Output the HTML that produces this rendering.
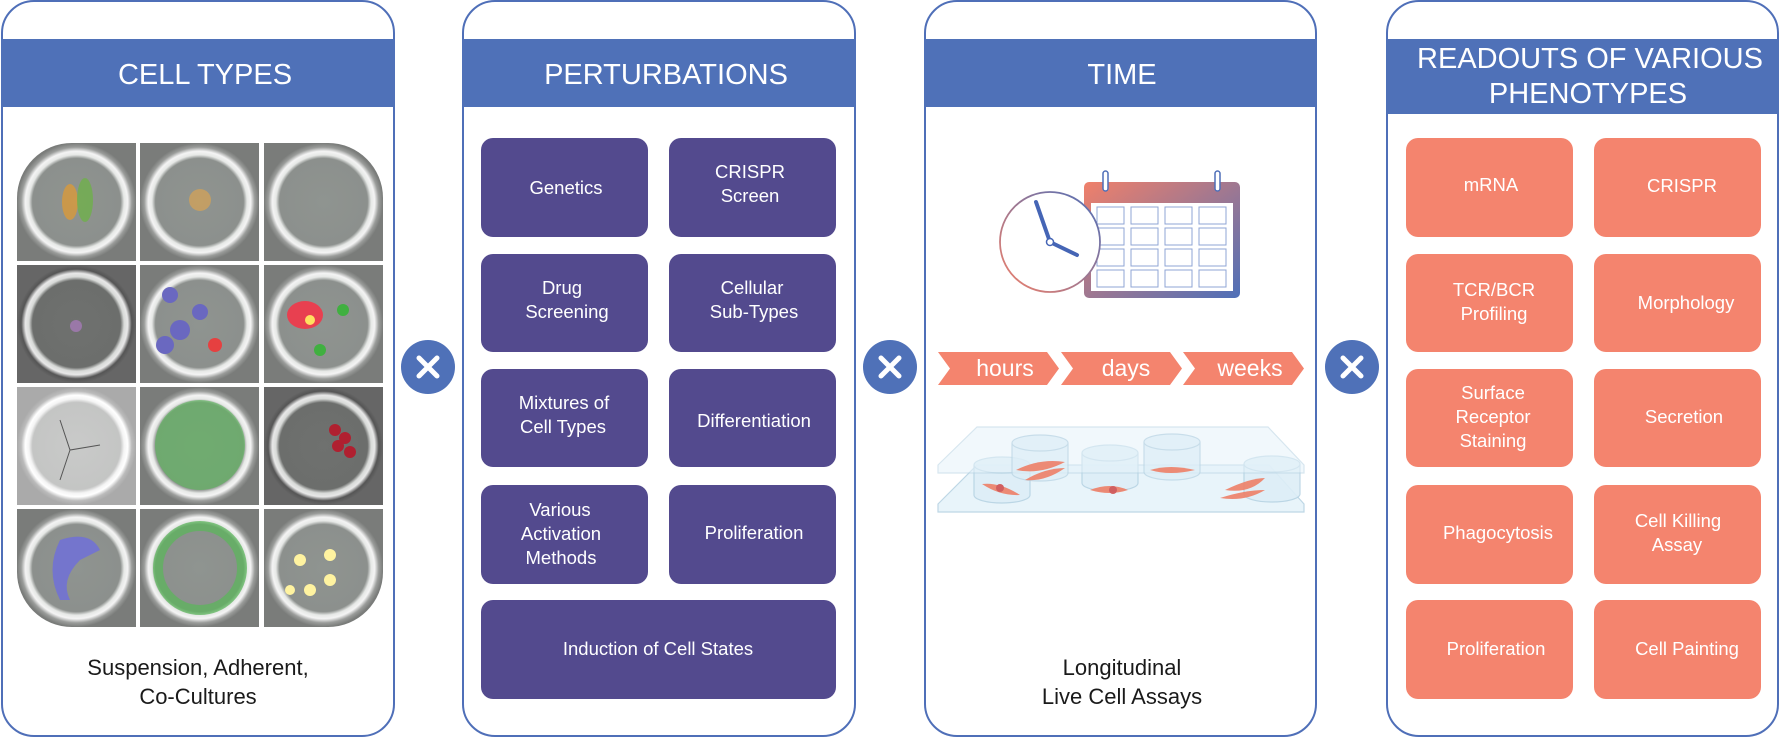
<!DOCTYPE html>
<html><head><meta charset="utf-8"><style>
html,body{margin:0;padding:0;background:#fff;}
body{width:1780px;height:738px;overflow:hidden;font-family:"Liberation Sans",sans-serif;}
</style></head><body>
<svg width="1780" height="738" viewBox="0 0 1780 738" xmlns="http://www.w3.org/2000/svg" font-family="Liberation Sans, sans-serif">
<defs>
<linearGradient id="cal" x1="0" y1="0" x2="1" y2="1"><stop offset="0" stop-color="#f0806a"/><stop offset="1" stop-color="#4e6fb8"/></linearGradient>
<linearGradient id="clk" x1="0" y1="1" x2="1" y2="0"><stop offset="0" stop-color="#f0806a"/><stop offset="1" stop-color="#4e6fb8"/></linearGradient>
<radialGradient id="ring" cx="0.5" cy="0.5" r="0.5">
<stop offset="0" stop-color="#8f9490"/><stop offset="0.74" stop-color="#8c908d"/><stop offset="0.8" stop-color="#e6e8e6"/><stop offset="0.86" stop-color="#f4f4f4"/><stop offset="0.93" stop-color="#9a9c9a"/><stop offset="1" stop-color="#7a7c7a"/></radialGradient>
<radialGradient id="ringd" cx="0.5" cy="0.5" r="0.5">
<stop offset="0" stop-color="#6f716f"/><stop offset="0.74" stop-color="#6c6e6c"/><stop offset="0.8" stop-color="#d8dad8"/><stop offset="0.86" stop-color="#e8e8e8"/><stop offset="0.93" stop-color="#555"/><stop offset="1" stop-color="#666"/></radialGradient>
<radialGradient id="ringl" cx="0.5" cy="0.5" r="0.5">
<stop offset="0" stop-color="#c9cac9"/><stop offset="0.74" stop-color="#c4c5c4"/><stop offset="0.8" stop-color="#f4f4f4"/><stop offset="0.86" stop-color="#fff"/><stop offset="0.93" stop-color="#bbb"/><stop offset="1" stop-color="#aaa"/></radialGradient>
<clipPath id="gridclip"><rect x="17" y="143" width="366" height="484" rx="55"/></clipPath>
</defs>

<!-- panels -->
<g fill="#fff" stroke="#4f6fb8" stroke-width="2">
<rect x="2" y="1" width="392" height="735" rx="32"/>
<rect x="463" y="1" width="392" height="735" rx="32"/>
<rect x="925" y="1" width="391" height="735" rx="32"/>
<rect x="1387" y="1" width="391" height="735" rx="32"/>
</g>
<g fill="#4f71b8">
<rect x="1" y="39" width="394" height="68"/>
<rect x="462" y="39" width="394" height="68"/>
<rect x="924" y="39" width="393" height="68"/>
<rect x="1386" y="39" width="393" height="75"/>
</g>
<g fill="#fff" font-size="29" text-anchor="middle">
<text x="205" y="84">CELL TYPES</text>
<text x="666" y="84">PERTURBATIONS</text>
<text x="1122" y="84">TIME</text>
<text x="1590" y="68">READOUTS OF VARIOUS</text>
<text x="1588" y="103">PHENOTYPES</text>
</g>

<!-- cell grid -->
<g clip-path="url(#gridclip)">
<rect x="17" y="143" width="366" height="484" fill="#fff"/>
<g>
<rect x="17" y="143" width="119" height="118" fill="url(#ring)"/>
<rect x="140" y="143" width="119" height="118" fill="url(#ring)"/>
<rect x="264" y="143" width="119" height="118" fill="url(#ring)"/>
<rect x="17" y="265" width="119" height="118" fill="url(#ringd)"/>
<rect x="140" y="265" width="119" height="118" fill="url(#ring)"/>
<rect x="264" y="265" width="119" height="118" fill="url(#ring)"/>
<rect x="17" y="387" width="119" height="118" fill="url(#ringl)"/>
<rect x="140" y="387" width="119" height="118" fill="url(#ring)"/>
<rect x="264" y="387" width="119" height="118" fill="url(#ringd)"/>
<rect x="17" y="509" width="119" height="118" fill="url(#ring)"/>
<rect x="140" y="509" width="119" height="118" fill="url(#ring)"/>
<rect x="264" y="509" width="119" height="118" fill="url(#ring)"/>
</g>
<!-- blobs -->
<ellipse cx="70" cy="202" rx="8" ry="18" fill="#d99a3a" opacity="0.8"/>
<ellipse cx="85" cy="200" rx="8" ry="22" fill="#6fb04a" opacity="0.8"/>
<circle cx="200" cy="200" r="11" fill="#c8a060" opacity="0.9"/>
<circle cx="76" cy="326" r="6" fill="#9a78a8"/>
<circle cx="170" cy="295" r="8" fill="#6a68c0"/><circle cx="180" cy="330" r="10" fill="#6a68c0"/><circle cx="200" cy="312" r="8" fill="#6a68c0"/><circle cx="215" cy="345" r="7" fill="#e64040"/><circle cx="165" cy="345" r="9" fill="#6a68c0"/>
<ellipse cx="305" cy="315" rx="18" ry="14" fill="#e84050"/><circle cx="310" cy="320" r="5" fill="#ffe060"/><circle cx="343" cy="310" r="6" fill="#40b040"/><circle cx="320" cy="350" r="6" fill="#40b040"/>
<path d="M60 420 L70 450 L100 445 M70 450 L60 480" stroke="#555" fill="none"/>
<ellipse cx="200" cy="445" rx="45" ry="45" fill="#5cba5c" opacity="0.6"/>
<g fill="#b02030"><circle cx="335" cy="430" r="6"/><circle cx="345" cy="438" r="6"/><circle cx="338" cy="446" r="6"/><circle cx="350" cy="452" r="6"/></g>
<path d="M60 540 Q90 530 100 550 L80 560 Q60 580 70 600 L60 600 Q45 570 60 540Z" fill="#7070d8" opacity="0.85"/>
<ellipse cx="200" cy="568" rx="42" ry="42" fill="none" stroke="#58b858" stroke-width="10" opacity="0.7"/>
<g fill="#fff3a0"><circle cx="300" cy="560" r="6"/><circle cx="330" cy="555" r="6"/><circle cx="310" cy="590" r="6"/><circle cx="330" cy="580" r="6"/><circle cx="290" cy="590" r="5"/></g>
<g fill="#fff">
<rect x="136" y="143" width="4" height="484"/><rect x="259" y="143" width="5" height="484"/>
<rect x="17" y="261" width="366" height="4"/><rect x="17" y="383" width="366" height="4"/><rect x="17" y="505" width="366" height="4"/>
</g>
</g>
<g fill="#1a1a1a" font-size="22" text-anchor="middle">
<text x="198" y="675">Suspension, Adherent,</text>
<text x="198" y="704">Co-Cultures</text>
<text x="1122" y="675">Longitudinal</text>
<text x="1122" y="704">Live Cell Assays</text>
</g>

<!-- perturbation boxes -->
<g fill="#534a8e">
<rect x="481" y="138" width="167" height="99" rx="12"/><rect x="669" y="138" width="167" height="99" rx="12"/>
<rect x="481" y="254" width="167" height="98" rx="12"/><rect x="669" y="254" width="167" height="98" rx="12"/>
<rect x="481" y="369" width="167" height="98" rx="12"/><rect x="669" y="369" width="167" height="98" rx="12"/>
<rect x="481" y="485" width="167" height="99" rx="12"/><rect x="669" y="485" width="167" height="99" rx="12"/>
<rect x="481" y="600" width="355" height="99" rx="12"/>
</g>
<g fill="#fff" font-size="18.5" text-anchor="middle">
<text x="566" y="194">Genetics</text>
<text x="750" y="178">CRISPR</text><text x="750" y="202">Screen</text>
<text x="562" y="294">Drug</text><text x="567" y="318">Screening</text>
<text x="752" y="294">Cellular</text><text x="754" y="318">Sub-Types</text>
<text x="564" y="409">Mixtures of</text><text x="563" y="433">Cell Types</text>
<text x="754" y="427">Differentiation</text>
<text x="560" y="516">Various</text><text x="561" y="540">Activation</text><text x="561" y="564">Methods</text>
<text x="754" y="539">Proliferation</text>
<text x="658" y="655">Induction of Cell States</text>
</g>

<!-- readout boxes -->
<g fill="#f4846e">
<rect x="1406" y="138" width="167" height="99" rx="12"/><rect x="1594" y="138" width="167" height="99" rx="12"/>
<rect x="1406" y="254" width="167" height="98" rx="12"/><rect x="1594" y="254" width="167" height="98" rx="12"/>
<rect x="1406" y="369" width="167" height="98" rx="12"/><rect x="1594" y="369" width="167" height="98" rx="12"/>
<rect x="1406" y="485" width="167" height="99" rx="12"/><rect x="1594" y="485" width="167" height="99" rx="12"/>
<rect x="1406" y="600" width="167" height="99" rx="12"/><rect x="1594" y="600" width="167" height="99" rx="12"/>
</g>
<g fill="#fff" font-size="18.5" text-anchor="middle">
<text x="1491" y="191">mRNA</text>
<text x="1682" y="192">CRISPR</text>
<text x="1494" y="296">TCR/BCR</text><text x="1494" y="320">Profiling</text>
<text x="1686" y="309">Morphology</text>
<text x="1493" y="399">Surface</text><text x="1493" y="423">Receptor</text><text x="1493" y="447">Staining</text>
<text x="1684" y="423">Secretion</text>
<text x="1498" y="539">Phagocytosis</text>
<text x="1678" y="527">Cell Killing</text><text x="1677" y="551">Assay</text>
<text x="1496" y="655">Proliferation</text>
<text x="1687" y="655">Cell Painting</text>
</g>

<!-- multiply circles -->
<g>
<circle cx="428" cy="367" r="27" fill="#4f71b8"/>
<circle cx="890" cy="367" r="27" fill="#4f71b8"/>
<circle cx="1352" cy="367" r="27" fill="#4f71b8"/>
<g stroke="#fff" stroke-width="5" stroke-linecap="round">
<path d="M419 358 L437 376 M437 358 L419 376"/>
<path d="M881 358 L899 376 M899 358 L881 376"/>
<path d="M1343 358 L1361 376 M1361 358 L1343 376"/>
</g>
</g>

<!-- calendar -->
<rect x="1084" y="182" width="156" height="116" rx="5" fill="url(#cal)"/>
<rect x="1091" y="203" width="142" height="88" fill="#fff"/>
<g fill="#fff" stroke="#8fa4d4" stroke-width="1">
<rect x="1097" y="207" width="27" height="17"/><rect x="1131" y="207" width="27" height="17"/><rect x="1165" y="207" width="27" height="17"/><rect x="1199" y="207" width="27" height="17"/>
<rect x="1097" y="228" width="27" height="17"/><rect x="1131" y="228" width="27" height="17"/><rect x="1165" y="228" width="27" height="17"/><rect x="1199" y="228" width="27" height="17"/>
<rect x="1097" y="249" width="27" height="17"/><rect x="1131" y="249" width="27" height="17"/><rect x="1165" y="249" width="27" height="17"/><rect x="1199" y="249" width="27" height="17"/>
<rect x="1097" y="270" width="27" height="17"/><rect x="1131" y="270" width="27" height="17"/><rect x="1165" y="270" width="27" height="17"/><rect x="1199" y="270" width="27" height="17"/>
</g>
<g fill="#fff" stroke="#4f6fb8" stroke-width="1.5">
<rect x="1103" y="171" width="5" height="20" rx="2.5"/><rect x="1215" y="171" width="5" height="20" rx="2.5"/>
</g>
<!-- clock -->
<circle cx="1050" cy="242" r="50" fill="#fff" stroke="url(#clk)" stroke-width="1.8"/>
<g stroke="#4565b5" stroke-width="4" stroke-linecap="round">
<line x1="1050" y1="242" x2="1036" y2="202"/>
<line x1="1050" y1="242" x2="1077" y2="255"/>
</g>
<circle cx="1050" cy="242" r="3.5" fill="#fff" stroke="#4565b5" stroke-width="1.5"/>

<!-- arrows -->
<g fill="#f4846e">
<polygon points="938,352 1047,352 1059,368.5 1047,385 938,385 950,368.5"/>
<polygon points="1061,352 1170,352 1182,368.5 1170,385 1061,385 1073,368.5"/>
<polygon points="1183,352 1292,352 1304,368.5 1292,385 1183,385 1195,368.5"/>
</g>
<g fill="#fff" font-size="23" text-anchor="middle">
<text x="1005" y="376">hours</text>
<text x="1126" y="376">days</text>
<text x="1250" y="376">weeks</text>
</g>

<!-- plates -->
<g stroke="#b7d3e3" stroke-width="1.2">
<polygon points="938,504 977,465 1269,465 1304,504 1304,512 938,512" fill="#e6f3fa" opacity="0.9"/>
<g fill="#ddeef7" opacity="0.9">
<path d="M974 465 v30 a28 8 0 0 0 56 0 v-30"/><ellipse cx="1002" cy="465" rx="28" ry="8"/>
<path d="M1082 453 v30 a28 8 0 0 0 56 0 v-30"/><ellipse cx="1110" cy="453" rx="28" ry="8"/>
<path d="M1244 464 v30 a28 8 0 0 0 56 0 v-30"/><ellipse cx="1272" cy="464" rx="28" ry="8"/>
</g>
<polygon points="938,465 977,427 1268,427 1304,465 1304,473 938,473" fill="#e6f3fa" opacity="0.55"/>
<g fill="#ddeef7" opacity="0.7">
<path d="M1012 443 v30 a28 8 0 0 0 56 0 v-30"/><ellipse cx="1040" cy="443" rx="28" ry="8"/>
<path d="M1144 442 v30 a28 8 0 0 0 56 0 v-30"/><ellipse cx="1172" cy="442" rx="28" ry="8"/>
</g>
</g>
<g fill="#ee8068" opacity="0.9">
<path d="M982 484 Q1000 482 1020 495 Q1000 496 982 484Z"/><circle cx="1000" cy="488" r="4" fill="#d05050"/>
<path d="M1016 470 Q1040 458 1065 462 Q1040 475 1016 470Z"/><path d="M1025 480 Q1045 468 1065 468 Q1045 482 1025 480Z"/>
<path d="M1090 490 Q1110 482 1128 490 Q1110 496 1090 490Z"/><circle cx="1113" cy="490" r="4" fill="#d05050"/>
<path d="M1150 470 Q1170 464 1195 470 Q1170 476 1150 470Z"/>
<path d="M1225 490 Q1250 478 1265 478 Q1250 494 1225 490Z"/><path d="M1220 498 Q1245 490 1265 490 Q1245 502 1220 498Z"/>
</g>
</svg>
</body></html>
